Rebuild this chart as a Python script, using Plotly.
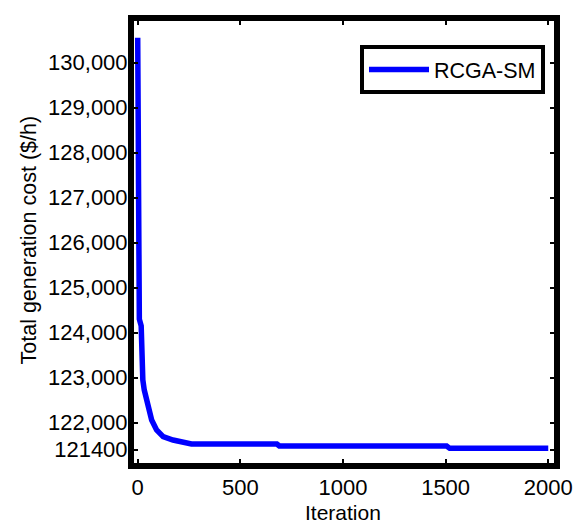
import plotly.graph_objects as go

# Data
iterations = [0, 1, 2, 3, 4, 5, 6, 7, 8, 17, 19, 22, 25, 32, 48, 68, 92, 124,
              172, 245, 262, 678, 690, 1505, 1520, 2000]
cost = [130550, 130300, 129400, 128300, 127300, 126500, 125600, 124800, 124300,
        124150, 123600, 123200, 122950, 122726, 122437, 122060, 121838, 121689,
        121616, 121545, 121527, 121527, 121483, 121483, 121431, 121431]

y_tickvals = [121400, 122000, 123000, 124000, 125000, 126000, 127000, 128000, 129000, 130000]
y_ticktext = ["121400", "122,000", "123,000", "124,000", "125,000", "126,000",
              "127,000", "128,000", "129,000", "130,000"]
x_tickvals = [0, 500, 1000, 1500, 2000]
x_ticktext = ["0", "500", "1000", "1500", "2000"]

FONT = "Liberation Sans, Arial, sans-serif"

fig = go.Figure()
fig.add_trace(go.Scatter(
    x=iterations, y=cost, mode="lines", name="RCGA-SM",
    line=dict(color="#0000FF", width=5.5),
))

L, R, T, B = 134, 574 - 554, 21, 525 - 463
fig.update_layout(
    width=574, height=525,
    margin=dict(l=L, r=R, t=T, b=B, pad=0),
    paper_bgcolor="white", plot_bgcolor="white",
    font=dict(family=FONT, size=22, color="black"),
    showlegend=True,
    legend=dict(
        x=(545 - 134) / 420, y=(463 - 45) / 442, xanchor="right", yanchor="top",
        bgcolor="white", bordercolor="black", borderwidth=4,
        font=dict(family=FONT, size=21.5, color="black"),
        itemwidth=60,
    ),
    xaxis=dict(
        range=[-18, 2028], tickvals=x_tickvals, ticktext=x_ticktext,
        ticks="inside", ticklen=4, tickwidth=2, tickcolor="black",
        showline=True, linecolor="black", linewidth=6, mirror="ticks",
        showgrid=False, zeroline=False, automargin=False,
        tickfont=dict(family=FONT, size=22, color="black"),
    ),
    yaxis=dict(
        range=[121105, 130922], tickvals=y_tickvals, ticktext=y_ticktext,
        ticks="inside", ticklen=4, tickwidth=2, tickcolor="black",
        showline=True, linecolor="black", linewidth=6, mirror="ticks",
        showgrid=False, zeroline=False, automargin=False,
        ticklabelstandoff=-4,
        tickfont=dict(family=FONT, size=22, color="black"),
    ),
    annotations=[
        dict(text="Iteration", xref="paper", yref="paper",
             x=(343 - 134) / 420, y=(463 - 512) / 442,
             xanchor="center", yanchor="middle", showarrow=False,
             font=dict(family=FONT, size=21, color="black")),
        dict(text="Total generation cost ($/h)", xref="paper", yref="paper",
             x=(28.5 - 134) / 420, y=(463 - 240) / 442, textangle=-90,
             xanchor="center", yanchor="middle", showarrow=False,
             font=dict(family=FONT, size=21.5, color="black")),
    ],
)

fig.write_html("out.html", config={"displayModeBar": False},
               post_script="document.body.style.margin='0';")
